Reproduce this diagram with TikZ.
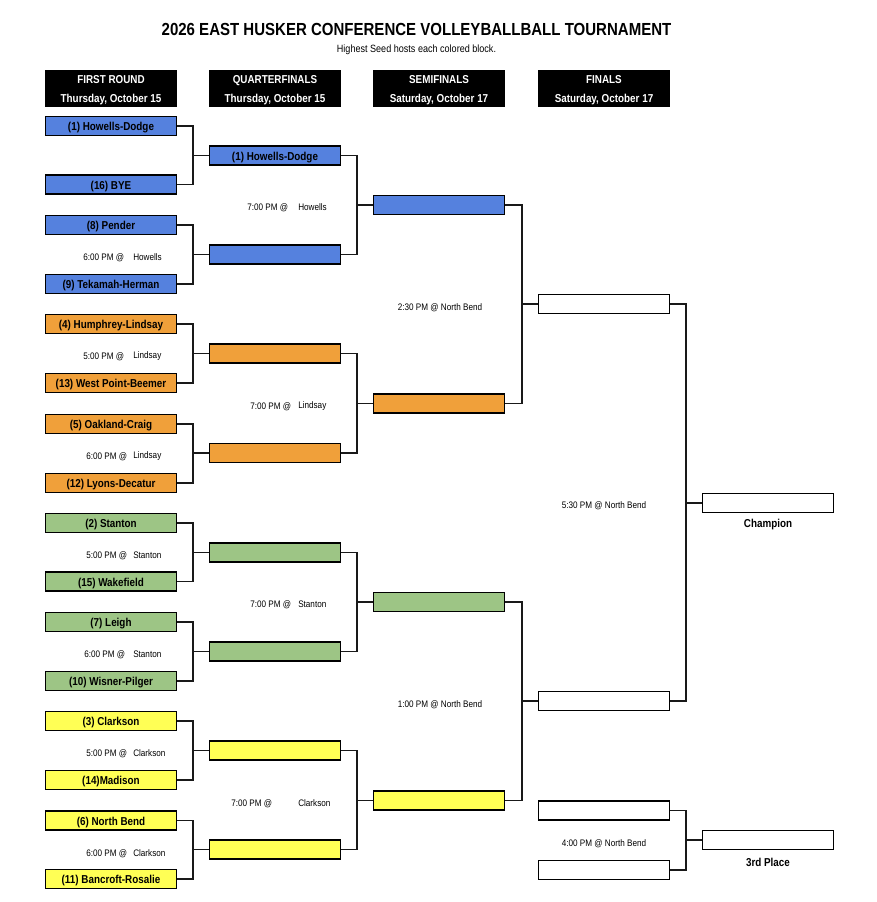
\documentclass[tikz,border=0pt]{standalone}
\usepackage{fontspec}
\setmainfont{Liberation Sans}[FakeStretch=0.86]
\usetikzlibrary{calc}
\definecolor{cblue}{HTML}{5581DE}
\definecolor{corange}{HTML}{F0A03A}
\definecolor{cgreen}{HTML}{9DC585}
\definecolor{cyellow}{HTML}{FFFF55}
\tikzset{
  team/.style={draw=black, line width=1.2pt, rectangle, inner sep=0pt,
    minimum width=98pt, minimum height=14.5pt, text height=7pt, text depth=0pt,
    font=\fontsize{8.6}{10}\selectfont\bfseries},
  hdr/.style={fill=black, rectangle, inner sep=0pt, minimum width=99pt, minimum height=28pt},
  hdrtxt/.style={text=white, inner sep=0pt, align=center, font=\fontsize{8.6}{14.25}\selectfont\bfseries},
  conn/.style={line width=1.2pt, draw=black!90},
  tm/.style={anchor=west, inner sep=0pt, font=\fontsize{7.1}{8}\selectfont},
  tmc/.style={inner sep=0pt, font=\fontsize{7.1}{8}\selectfont},
  lbl/.style={inner sep=0pt, font=\fontsize{8.6}{10}\selectfont\bfseries}
}
\newcommand{\brk}[3]{%
  \draw[conn] (#1.east) -| ($(#3.west)+(-16,0)$) |- (#2.east);
  \draw[conn] ($(#3.west)+(-16,0)$) -- (#3.west);}
\begin{document}
\begin{tikzpicture}[x=0.75pt,y=-0.75pt]
\useasboundingbox (0,0) rectangle (876,902);
% title
\node[inner sep=0pt, font=\fontsize{13.1}{15}\selectfont\bfseries] (title) at (416.5,29) {2026 EAST HUSKER CONFERENCE VOLLEYBALLBALL TOURNAMENT};
\node[inner sep=0pt, font=\fontsize{7.9}{9}\selectfont] (sub) at (416.5,50) {Highest Seed hosts each colored block.};
% headers
\node[hdr] (h1) at (111,88.5) {};
\node[hdr] (h2) at (275,88.5) {};
\node[hdr] (h3) at (439,88.5) {};
\node[hdr] (h4) at (604,88.5) {};
\node[hdrtxt] (h1t) at ($(h1)+(0,1.5)$) {FIRST ROUND\\Thursday, October 15};
\node[hdrtxt] (h2t) at ($(h2)+(0,1.5)$) {QUARTERFINALS\\Thursday, October 15};
\node[hdrtxt] (h3t) at ($(h3)+(0,1.5)$) {SEMIFINALS\\Saturday, October 17};
\node[hdrtxt] (h4t) at ($(h4)+(0,1.5)$) {FINALS\\Saturday, October 17};
% first round
\node[team, fill=cblue] (r1) at (111,126) {(1) Howells-Dodge};
\node[team, fill=cblue] (r2) at (111,184.5) {(16) BYE};
\node[team, fill=cblue] (r3) at (111,225) {(8) Pender};
\node[team, fill=cblue] (r4) at (111,284) {(9) Tekamah-Herman};
\node[team, fill=corange] (r5) at (111,324) {(4) Humphrey-Lindsay};
\node[team, fill=corange] (r6) at (111,383) {(13) West Point-Beemer};
\node[team, fill=corange] (r7) at (111,424) {(5) Oakland-Craig};
\node[team, fill=corange] (r8) at (111,483) {(12) Lyons-Decatur};
\node[team, fill=cgreen] (r9) at (111,523) {(2) Stanton};
\node[team, fill=cgreen] (r10) at (111,581.5) {(15) Wakefield};
\node[team, fill=cgreen] (r11) at (111,622) {(7) Leigh};
\node[team, fill=cgreen] (r12) at (111,681) {(10) Wisner-Pilger};
\node[team, fill=cyellow] (r13) at (111,721) {(3) Clarkson};
\node[team, fill=cyellow] (r14) at (111,780) {(14)Madison};
\node[team, fill=cyellow] (r15) at (111,820.5) {(6) North Bend};
\node[team, fill=cyellow] (r16) at (111,879) {(11) Bancroft-Rosalie};
% quarterfinals
\node[team, fill=cblue] (q1) at (275,155.5) {(1) Howells-Dodge};
\node[team, fill=cblue] (q2) at (275,254.5) {};
\node[team, fill=corange] (q3) at (275,353.5) {};
\node[team, fill=corange] (q4) at (275,453) {};
\node[team, fill=cgreen] (q5) at (275,552.5) {};
\node[team, fill=cgreen] (q6) at (275,651.5) {};
\node[team, fill=cyellow] (q7) at (275,750.5) {};
\node[team, fill=cyellow] (q8) at (275,849.5) {};
% semifinals
\node[team, fill=cblue] (s1) at (439,205) {};
\node[team, fill=corange] (s2) at (439,403.5) {};
\node[team, fill=cgreen] (s3) at (439,602) {};
\node[team, fill=cyellow] (s4) at (439,800.5) {};
% finals
\node[team, fill=white] (f1) at (604,304) {};
\node[team, fill=white] (f2) at (604,701) {};
\node[team, fill=white] (ch) at (768,503) {};
\node[lbl] (chl) at (768,524.5) {Champion};
% third place
\node[team, fill=white] (t1) at (604,810.5) {};
\node[team, fill=white] (t2) at (604,870) {};
\node[team, fill=white] (t3) at (768,840) {};
\node[lbl] (t3l) at (768,862.5) {3rd Place};
% connectors
\brk{r1}{r2}{q1}
\brk{r3}{r4}{q2}
\brk{r5}{r6}{q3}
\brk{r7}{r8}{q4}
\brk{r9}{r10}{q5}
\brk{r11}{r12}{q6}
\brk{r13}{r14}{q7}
\brk{r15}{r16}{q8}
\brk{q1}{q2}{s1}
\brk{q3}{q4}{s2}
\brk{q5}{q6}{s3}
\brk{q7}{q8}{s4}
\brk{s1}{s2}{f1}
\brk{s3}{s4}{f2}
\brk{f1}{f2}{ch}
\brk{t1}{t2}{t3}
% times, first round
\node[tm] (a1) at (83,257.5) {6:00 PM @};   \node[tm] (b1) at (133,257.5) {Howells};
\node[tm] (a2) at (83,356.5) {5:00 PM @};   \node[tm] (b2) at (133,356.5) {Lindsay};
\node[tm] (a3) at (86,456.5) {6:00 PM @};   \node[tm] (b3) at (133,456.5) {Lindsay};
\node[tm] (a4) at (86,555.5) {5:00 PM @};   \node[tm] (b4) at (133,555.5) {Stanton};
\node[tm] (a5) at (84,654.5) {6:00 PM @};   \node[tm] (b5) at (133,654.5) {Stanton};
\node[tm] (a6) at (86,753.5) {5:00 PM @};   \node[tm] (b6) at (133,753.5) {Clarkson};
\node[tm] (a7) at (86,853.5) {6:00 PM @};   \node[tm] (b7) at (133,853.5) {Clarkson};
% times, quarterfinals
\node[tm] (c1) at (247,207.5) {7:00 PM @};  \node[tm] (d1) at (298,207.5) {Howells};
\node[tm] (c2) at (250,406.5) {7:00 PM @};  \node[tm] (d2) at (298,406.5) {Lindsay};
\node[tm] (c3) at (250,604.5) {7:00 PM @};  \node[tm] (d3) at (298,604.5) {Stanton};
\node[tm] (c4) at (231,803.5) {7:00 PM @};  \node[tm] (d4) at (298,803.5) {Clarkson};
% times, later rounds
\node[tmc] (e1) at (440,307.5) {2:30 PM @ North Bend};
\node[tmc] (e2) at (440,704.5) {1:00 PM @ North Bend};
\node[tmc] (e3) at (604,505.5) {5:30 PM @ North Bend};
\node[tmc] (e4) at (604,843.5) {4:00 PM @ North Bend};
\end{tikzpicture}
\end{document}
